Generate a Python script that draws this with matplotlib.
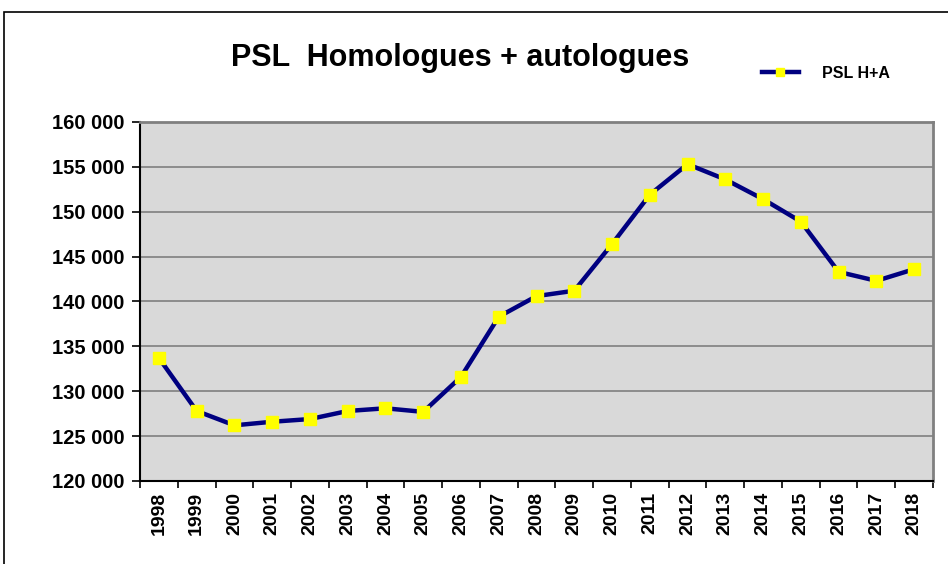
import matplotlib.pyplot as plt
from matplotlib.patches import Rectangle
from matplotlib.ticker import FuncFormatter, FixedLocator

plt.rcParams['font.family'] = ['Liberation Sans', 'DejaVu Sans']

years = [str(y) for y in range(1998, 2019)]
psl = [133700, 127800, 126200, 126600, 126900, 127800, 128100, 127700,
       131600, 138300, 140600, 141200, 146400, 151900, 155300, 153600,
       151400, 148900, 143300, 142300, 143600]

fig = plt.figure(figsize=(9.48, 5.64), dpi=100)
ax = fig.add_axes([0.1477, 0.1472, 0.9842 - 0.1477, 0.7837 - 0.1472])

# outer chart border
fig.patches.append(Rectangle((4 / 948, -0.05), 1.0, (564 - 12) / 564 + 0.05,
                             transform=fig.transFigure, fill=False,
                             edgecolor='black', linewidth=1.2))

ax.set_facecolor('#D9D9D9')
x = list(range(len(years)))
ax.plot(x, psl, color='#000080', linewidth=3.2, marker='s', markersize=8.5,
        markerfacecolor='#FFFF00', markeredgecolor='#FFFF00', label='PSL H+A',
        zorder=3)

ax.set_xlim(-0.5, len(years) - 0.5)
ax.set_ylim(120000, 160000)
ax.set_yticks(range(120000, 160001, 5000))
ax.yaxis.set_major_formatter(FuncFormatter(lambda v, p: f"{int(v):,}".replace(',', ' ')))
ax.yaxis.grid(True, color='#808080', linewidth=1.2)
ax.set_axisbelow(True)

ax.set_xticks(x)
ax.set_xticklabels(years, rotation=90, fontsize=14, fontweight='bold')
ax.xaxis.set_minor_locator(FixedLocator([i - 0.5 for i in range(len(years) + 1)]))
ax.tick_params(axis='x', which='major', length=0, pad=8)
ax.tick_params(axis='x', which='minor', length=5, width=1.2, color='black')
ax.tick_params(axis='y', length=6, width=1.2, color='black', labelsize=14.5, pad=5)
for lbl in ax.get_yticklabels():
    lbl.set_fontweight('bold')

for s in ['top', 'right']:
    ax.spines[s].set_color('#808080')
    ax.spines[s].set_linewidth(2)
for s in ['left', 'bottom']:
    ax.spines[s].set_color('black')
    ax.spines[s].set_linewidth(1.5)

fig.text(0.485, 0.897, 'PSL  Homologues + autologues', ha='center', va='center',
         fontsize=22, fontweight='bold')

leg = ax.legend(loc='center left', bbox_to_anchor=(0.776, 1.136), frameon=False,
                prop={'size': 11.5, 'weight': 'bold'}, handlelength=2.3,
                handletextpad=1.5, borderaxespad=0, markerscale=0.7)

fig.savefig('out.png', dpi=100)
